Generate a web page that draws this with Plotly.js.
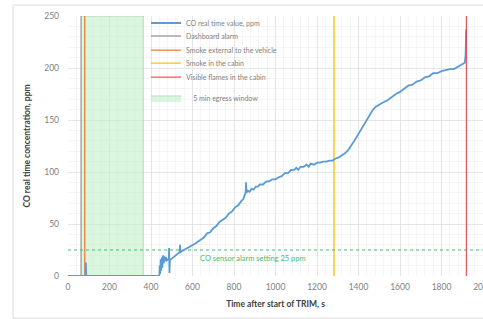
<!DOCTYPE html>
<html><head><meta charset="utf-8">
<script src="https://cdn.plot.ly/plotly-3.0.1.min.js"></script>
<style>html,body{margin:0;padding:0;background:#fff}#chart{width:483px;height:319px}</style>
</head><body><div id="chart"></div>
<script>
// CO real time value, ppm (time s, ppm)
const coTime = [0,84,86,88,440,442,444,447,449,452,455,458,461,464,468,472,476,482,486,487,489,491,496,502,510,518,525,532,538,540,542,550,560,570,580,590,600,612,625,640,655,670,685,700,715,730,745,760,775,790,805,820,835,845,852,856,858,860,866,875,885,895,905,915,925,940,955,970,985,1000,1015,1030,1045,1060,1075,1090,1100,1110,1120,1135,1150,1160,1170,1185,1200,1215,1230,1245,1260,1275,1290,1305,1320,1335,1350,1365,1380,1395,1410,1425,1440,1455,1470,1485,1500,1520,1540,1560,1580,1600,1610,1620,1640,1660,1680,1700,1720,1740,1760,1780,1800,1820,1840,1860,1880,1905,1912,1916,1918,1919];
const coValue = [0,0,13,0,0,10,2,16,5,18,8,20,12,19,14,18,15,16,16,27,3,15,16,17,18,20,21,22,23,30,23,24,25,26,27,28,29,31,33,35,37,41,42,46,48,52,54,56,60,62,66,68,72,74,78,80,90,80,82,81,84,83,86,86,88,88,91,91,93,93,95,96,99,99,102,102,104,102,105,105,107,105,108,107,109,109,110,110,111,111,113,114,116,118,121,125,130,135,140,145,151,156,160,163,165,167,169,172,175,177,179,180,183,184,187,188,191,192,195,195,197,198,199,199,201,204,205,212,228,237];
// Event times, s
const dashboardAlarm = 63;
const smokeExternal = 81;
const smokeCabin = 1282;
const visibleFlames = 1920;
const egressWindow = [63, 363];
const alarmSetting = 25;
const yRange = [0, 250];
const xRange = [0, 2000];

const legFont = {family:'Lato, sans-serif', size:7, color:'#7f7f7f'};
function leg(y){return {x:0.188, y:y, xanchor:'left', yanchor:'middle', bgcolor:'rgba(0,0,0,0)', borderwidth:0, font:legFont, itemwidth:30};}

const traces = [
  {x:[egressWindow[0],egressWindow[1],egressWindow[1],egressWindow[0],egressWindow[0]], y:[yRange[0],yRange[0],yRange[1],yRange[1],yRange[0]],
   type:'scatter', mode:'lines', fill:'toself', fillcolor:'rgba(195,240,200,0.6)', line:{color:'rgba(120,170,140,0.5)', width:0.8},
   name:'&nbsp;&nbsp;&nbsp;&nbsp;5 min egress window', legend:'legend6', hoverinfo:'skip'},
  {x:[dashboardAlarm,dashboardAlarm], y:yRange, type:'scatter', mode:'lines', line:{color:'#a5a5a5', width:1.3}, name:'Dashboard alarm', legend:'legend2'},
  {x:[smokeExternal,smokeExternal], y:yRange, type:'scatter', mode:'lines', line:{color:'#ed7d31', width:1.3}, name:'Smoke external to the vehicle', legend:'legend3'},
  {x:[smokeCabin,smokeCabin], y:yRange, type:'scatter', mode:'lines', line:{color:'#ffc000', width:1.3}, name:'Smoke in the cabin', legend:'legend4'},
  {x:[xRange[0],xRange[1]], y:[alarmSetting,alarmSetting], type:'scatter', mode:'lines', line:{color:'#3cbf6e', width:1.1, dash:'3px,3px'}, showlegend:false},
  {x:coTime, y:coValue, type:'scatter', mode:'lines', line:{color:'#5b9bd5', width:1.8}, name:'CO real time value, ppm', legend:'legend'},
  {x:[visibleFlames,visibleFlames], y:yRange, type:'scatter', mode:'lines', line:{color:'rgba(232,60,70,0.85)', width:1.3}, name:'Visible flames in the cabin', legend:'legend5'}
];

const tickFont = {family:'Lato, sans-serif', size:8.5, color:'#808080'};
const layout = {
  width:483, height:319,
  margin:{l:68, r:0, t:16, b:43},
  paper_bgcolor:'#fff', plot_bgcolor:'#fff',
  showlegend:true,
  legend:leg(0.973), legend2:leg(0.923), legend3:leg(0.869), legend4:leg(0.819), legend5:leg(0.765), legend6:leg(0.685),
  xaxis:{range:xRange, dtick:200, tick0:0, showgrid:true, gridcolor:'#dedede', gridwidth:0.8,
    minor:{dtick:40, showgrid:true, gridcolor:'#eeeeee', gridwidth:0.6},
    zeroline:false, showline:false, ticks:'', tickfont:tickFont, ticklabelstandoff:4, ticklabeloverflow:'allow',
    title:{text:'<b>Time after start of TRIM, s</b>', font:{family:'Lato, sans-serif', size:8.5, color:'#404040'}, standoff:10}},
  yaxis:{range:yRange, dtick:50, tick0:0, showgrid:true, gridcolor:'#dedede', gridwidth:0.8,
    minor:{dtick:10, showgrid:true, gridcolor:'#eeeeee', gridwidth:0.6},
    zeroline:false, showline:false, ticks:'', tickfont:tickFont, ticklabelstandoff:8,
    title:{text:'<b>CO real time concentration, ppm</b>', font:{family:'Lato, sans-serif', size:8.5, color:'#404040'}, standoff:12}},
  annotations:[{x:892, y:17, xref:'x', yref:'y', text:'CO sensor alarm setting 25 ppm', showarrow:false,
    font:{family:'Lato, sans-serif', size:7.5, color:'#3cbf6e'}}],
  shapes:[{type:'rect', xref:'paper', yref:'paper', x0:-0.1325, x1:1.05, y0:-0.162, y1:1.042, line:{color:'#dcdcdc', width:1}, fillcolor:'rgba(0,0,0,0)', layer:'below'}]
};
Plotly.newPlot('chart', traces, layout, {displayModeBar:false, staticPlot:true});
</script></body></html>
